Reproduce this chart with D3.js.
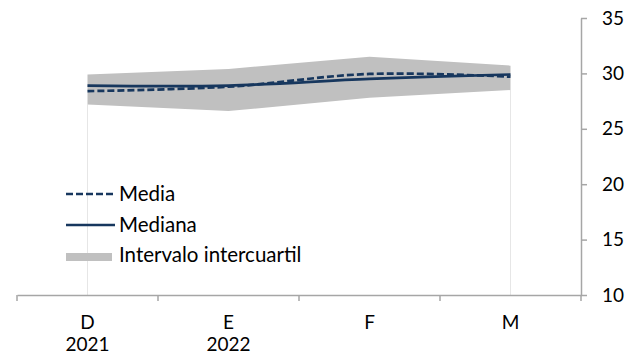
<!DOCTYPE html>
<html>
<head>
<meta charset="utf-8">
<script src="https://cdn.jsdelivr.net/npm/d3@7"></script>
<style>
  body { margin: 0; background: #fff; }
  text { font-family: Lato, "Liberation Sans", sans-serif; fill: #000; }
</style>
</head>
<body>
<svg id="graph" width="639" height="358"></svg>
<script>
  var svg = d3.select("#graph");

  // data
  var months = ["D", "E", "F", "M"];
  var years = ["2021", "2022", "", ""];
  var media = [28.4, 28.8, 29.95, 29.7];
  var mediana = [28.9, 28.9, 29.5, 29.9];
  var q1 = [27.2, 26.6, 27.8, 28.5];
  var q3 = [29.9, 30.4, 31.5, 30.7];
  var yTicks = [10, 15, 20, 25, 30, 35];

  var navy = "#17375e";
  var axisGrey = "#a6a6a6";
  var axisFont = "19px";
  var legendFont = "20.5px";

  var rows = months.map(function(m, i) {
    return {m: m, year: years[i], media: media[i], mediana: mediana[i], q1: q1[i], q3: q3[i]};
  });

  var x = d3.scaleBand().domain(months).range([17, 581]);
  var y = d3.scaleLinear().domain([10, 35]).range([295, 18]);
  function cx(d) { return x(d.m) + x.bandwidth() / 2; }

  // faint drop lines at the ends of the band
  [rows[0], rows[rows.length - 1]].forEach(function(d) {
    svg.append("line")
      .attr("x1", cx(d)).attr("x2", cx(d))
      .attr("y1", y(d.q1)).attr("y2", y(10))
      .attr("stroke", "#e6e6e6").attr("stroke-width", 1);
  });

  // interquartile band
  var area = d3.area()
    .x(cx)
    .y0(function(d) { return y(d.q1); })
    .y1(function(d) { return y(d.q3); });
  svg.append("path").datum(rows)
    .attr("d", area)
    .attr("fill", "#c0c0c0");

  // lines
  var smooth = d3.curveCardinal.tension(0);
  var lineMedia = d3.line().x(cx).y(function(d) { return y(d.media); }).curve(smooth);
  var lineMediana = d3.line().x(cx).y(function(d) { return y(d.mediana); }).curve(smooth);

  svg.append("path").datum(rows)
    .attr("d", lineMediana)
    .attr("fill", "none").attr("stroke", navy).attr("stroke-width", 2.7);
  svg.append("path").datum(rows)
    .attr("d", lineMedia)
    .attr("fill", "none").attr("stroke", navy).attr("stroke-width", 2.7)
    .attr("stroke-dasharray", "7,3");

  // x axis
  var xAxis = svg.append("g")
    .attr("transform", "translate(0," + y(10) + ")")
    .call(d3.axisBottom(x).tickSize(0).tickFormat(""));
  xAxis.select(".domain").attr("stroke", axisGrey).attr("stroke-width", 1.5);
  var bounds = months.map(function(m) { return x(m); }).concat([x.range()[1]]);
  xAxis.selectAll(".bound").data(bounds).enter().append("line")
    .attr("class", "bound")
    .attr("x1", function(d) { return d; }).attr("x2", function(d) { return d; })
    .attr("y1", 0).attr("y2", 6)
    .attr("stroke", axisGrey).attr("stroke-width", 1.5);

  var xLab = svg.selectAll(".xlab").data(rows).enter().append("text")
    .attr("class", "xlab")
    .attr("text-anchor", "middle")
    .style("font-size", axisFont);
  xLab.append("tspan").attr("x", cx).attr("y", 329).text(function(d) { return d.m; });
  xLab.append("tspan").attr("x", cx).attr("y", 351).text(function(d) { return d.year; });

  // y axis on the right
  var yAxis = svg.append("g")
    .attr("transform", "translate(581,0)")
    .call(d3.axisRight(y).tickValues(yTicks).tickSize(6).tickSizeOuter(0).tickPadding(15));
  yAxis.select(".domain").attr("stroke", axisGrey).attr("stroke-width", 1.5);
  yAxis.selectAll(".tick line").attr("stroke", axisGrey).attr("stroke-width", 1.5);
  yAxis.selectAll(".tick text")
    .style("font-size", axisFont)
    .style("font-family", "Lato, 'Liberation Sans', sans-serif")
    .attr("fill", "#000");

  // legend
  var legend = svg.append("g");
  var legItems = [
    {label: "Media", type: "dash", y: 194},
    {label: "Mediana", type: "solid", y: 225},
    {label: "Intervalo intercuartil", type: "box", y: 255}
  ];
  legItems.forEach(function(d) {
    if (d.type == "box") {
      legend.append("rect")
        .attr("x", 66).attr("y", 253).attr("width", 46).attr("height", 8)
        .attr("fill", "#c0c0c0");
    } else {
      legend.append("line")
        .attr("x1", 66).attr("x2", 115).attr("y1", d.y).attr("y2", d.y)
        .attr("stroke", navy).attr("stroke-width", 2.7)
        .attr("stroke-dasharray", d.type == "dash" ? "7,3" : null);
    }
    legend.append("text")
      .attr("x", 119).attr("y", d.y)
      .attr("dy", "0.35em")
      .style("font-size", legendFont)
      .text(d.label);
  });
</script>
</body>
</html>
